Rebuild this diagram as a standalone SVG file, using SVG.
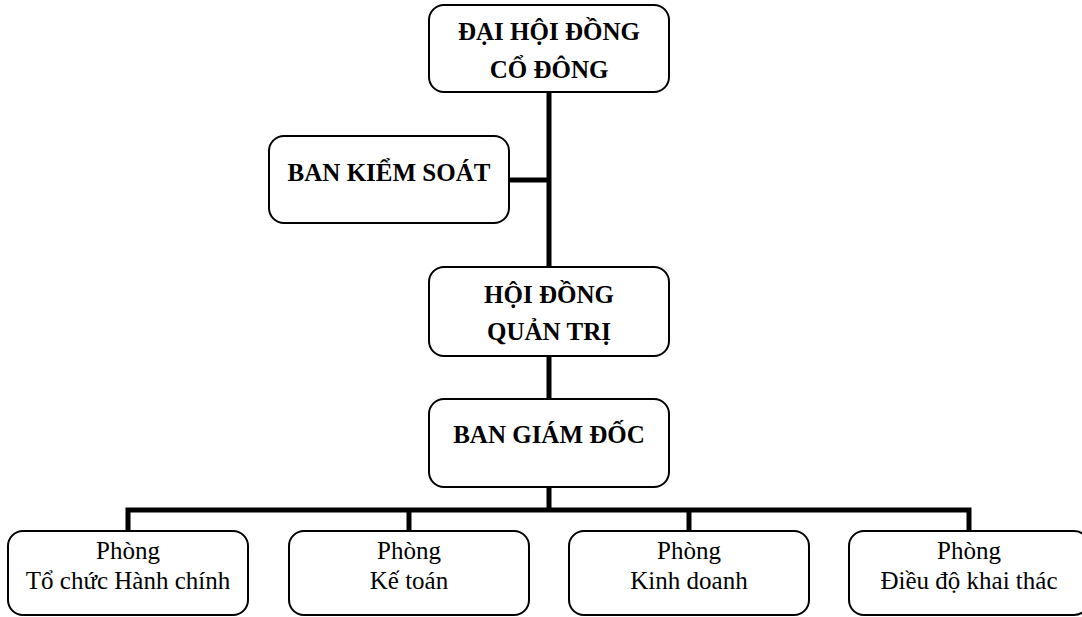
<svg xmlns="http://www.w3.org/2000/svg" width="1082" height="617" viewBox="0 0 1082 617">
<style>
.box{fill:#fff;stroke:#000;stroke-width:2}
.b{font-family:"Liberation Serif","Times New Roman",serif;font-weight:bold;font-size:25px;text-anchor:middle;fill:#000}
.r{font-family:"Liberation Serif","Times New Roman",serif;font-size:25px;text-anchor:middle;fill:#000}
.c{stroke:#000;stroke-width:5;fill:none}
</style>
<rect width="1082" height="617" fill="#fff"/>
<g id="connectors">
<line class="c" x1="549" y1="92" x2="549" y2="267"/>
<line class="c" x1="509" y1="180" x2="549" y2="180"/>
<line class="c" x1="549" y1="356" x2="549" y2="399"/>
<line class="c" x1="549" y1="487" x2="549" y2="510"/>
<polyline class="c" points="128,531 128,510 969,510 969,531"/>
<line class="c" x1="409" y1="510" x2="409" y2="531"/>
<line class="c" x1="689" y1="510" x2="689" y2="531"/>
</g>
<g id="dhdcd">
<rect class="box" x="429" y="5" width="240" height="87" rx="15"/>
<text class="b" x="549" y="40">ĐẠI HỘI ĐỒNG</text>
<text class="b" x="549" y="78">CỔ ĐÔNG</text>
</g>
<g id="bks">
<rect class="box" x="269" y="136" width="240" height="87" rx="15"/>
<text class="b" x="389" y="181">BAN KIỂM SOÁT</text>
</g>
<g id="hdqt">
<rect class="box" x="429" y="267" width="240" height="89" rx="15"/>
<text class="b" x="549" y="303">HỘI ĐỒNG</text>
<text class="b" x="549" y="340">QUẢN TRỊ</text>
</g>
<g id="bgd">
<rect class="box" x="429" y="399" width="240" height="88" rx="15"/>
<text class="b" x="549" y="443">BAN GIÁM ĐỐC</text>
</g>
<g id="p1">
<rect class="box" x="8" y="531" width="240" height="84" rx="15"/>
<text class="r" x="128" y="559">Phòng</text>
<text class="r" x="128" y="589">Tổ chức Hành chính</text>
</g>
<g id="p2">
<rect class="box" x="289" y="531" width="240" height="84" rx="15"/>
<text class="r" x="409" y="559">Phòng</text>
<text class="r" x="409" y="589">Kế toán</text>
</g>
<g id="p3">
<rect class="box" x="569" y="531" width="240" height="84" rx="15"/>
<text class="r" x="689" y="559">Phòng</text>
<text class="r" x="689" y="589">Kinh doanh</text>
</g>
<g id="p4">
<rect class="box" x="849" y="531" width="240" height="84" rx="15"/>
<text class="r" x="969" y="559">Phòng</text>
<text class="r" x="969" y="589">Điều độ khai thác</text>
</g>
</svg>
